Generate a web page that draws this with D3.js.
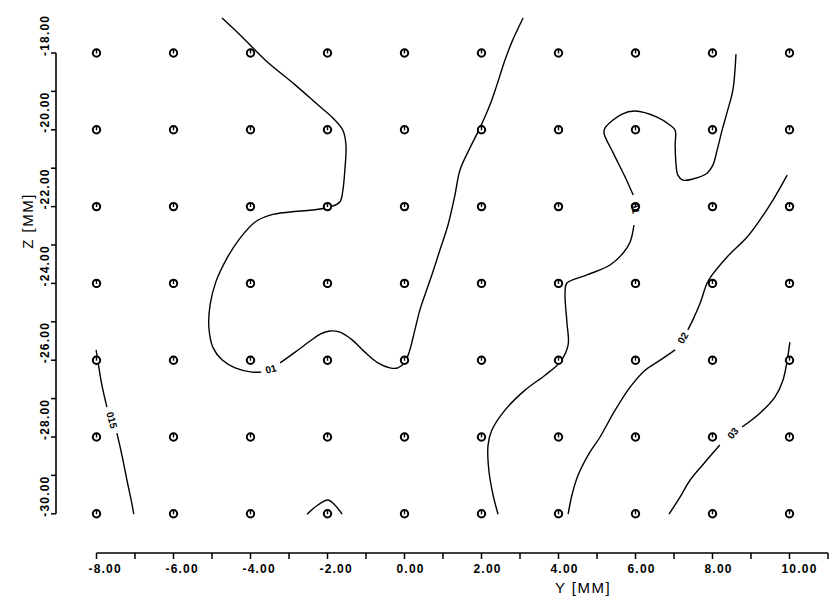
<!DOCTYPE html>
<html>
<head>
<meta charset="utf-8">
<script src="https://cdn.jsdelivr.net/npm/d3@7"></script>
<style>
html,body{margin:0;padding:0;background:#fff;}
svg{display:block;}
text{font-family:"Liberation Sans","DejaVu Sans",sans-serif;fill:#000;}
</style>
</head>
<body>
<div id="chart"></div>
<script>
// ---- data (Y, Z in mm) ----
const gridY = [-8, -6, -4, -2, 0, 2, 4, 6, 8, 10];
const gridZ = [-18, -20, -22, -24, -26, -28, -30];
const xTickLabels = ["-8.00","-6.00","-4.00","-2.00","0.00","2.00","4.00","6.00","8.00","10.00"];
const yTickLabels = ["-18.00","-20.00","-22.00","-24.00","-26.00","-28.00","-30.00"];

// contour 0.1 (left), split at label gap
const c01a_1 = [[-4.74,-17.09],[-4.27,-17.53],[-3.62,-18.18],[-2.84,-18.83],[-2.25,-19.35],[-1.86,-19.69],[-1.60,-20.01],[-1.52,-20.40],[-1.55,-21.05],[-1.60,-21.57],[-1.68,-21.88],[-1.94,-22.01],[-2.40,-22.09],[-2.97,-22.14],[-3.49,-22.22],[-3.88,-22.40],[-4.27,-22.82],[-4.61,-23.34],[-4.90,-23.96],[-5.05,-24.56],[-5.08,-25.16],[-4.97,-25.68],[-4.74,-25.99],[-4.40,-26.20],[-3.96,-26.31],[-3.72,-26.31]];
const c01a_2 = [[-3.23,-26.07],[-2.84,-25.79],[-2.45,-25.50],[-2.19,-25.32],[-1.94,-25.24],[-1.68,-25.27],[-1.36,-25.47],[-1.03,-25.79],[-0.69,-26.07],[-0.38,-26.20],[-0.17,-26.20],[0.01,-26.05],[0.14,-25.73],[0.27,-25.21],[0.40,-24.69],[0.53,-24.30],[0.71,-23.78],[0.92,-23.13],[1.13,-22.48],[1.31,-21.70],[1.44,-21.05],[1.70,-20.47],[1.96,-19.95],[2.22,-19.35],[2.40,-18.83],[2.61,-18.18],[2.79,-17.71],[3.08,-17.09]];
// contour 0.15 (far left)
const c015_1 = [[-8.01,-25.73],[-7.96,-26.05],[-7.86,-26.65],[-7.73,-27.22]];
const c015_2 = [[-7.47,-27.90],[-7.34,-28.47],[-7.21,-29.12],[-7.10,-29.64],[-7.03,-30.01]];
// small arch near Y=-2, Z=-30
const c01c = [[-2.53,-30.01],[-2.25,-29.77],[-1.99,-29.64],[-1.81,-29.77],[-1.62,-30.01]];
// contour 0.1 (right)
const c01b_1 = [[8.61,-18.03],[8.53,-18.96],[8.38,-19.54],[8.25,-20.01],[8.12,-20.53],[8.01,-20.92],[7.86,-21.13],[7.49,-21.28],[7.23,-21.31],[7.10,-21.18],[7.05,-20.86],[7.03,-20.40],[7.03,-20.01],[6.90,-19.88],[6.56,-19.67],[5.99,-19.51],[5.65,-19.59],[5.21,-19.95],[5.18,-20.08],[5.42,-20.60],[5.73,-21.23],[5.94,-21.70]];
const c01b_2 = [[5.96,-22.48],[5.86,-22.92],[5.68,-23.21],[5.34,-23.52],[4.74,-23.78],[4.22,-23.99],[4.17,-24.25],[4.22,-25.03],[4.25,-25.60],[4.04,-26.05],[3.65,-26.39],[3.13,-26.78],[2.61,-27.30],[2.27,-27.82],[2.17,-28.21],[2.19,-28.86],[2.30,-29.51],[2.43,-30.01]];
// contour 0.2
const c02_1 = [[4.25,-30.01],[4.35,-29.51],[4.51,-28.99],[4.77,-28.47],[5.08,-28.00],[5.47,-27.30],[5.86,-26.70],[6.25,-26.26],[6.64,-26.00],[7.03,-25.73]];
const c02_2 = [[7.36,-25.21],[7.49,-24.95],[7.68,-24.51],[7.86,-23.99],[7.99,-23.78],[8.38,-23.31],[8.90,-22.79],[9.23,-22.35],[9.57,-21.83],[9.94,-21.18]];
// contour 0.3
const c03_1 = [[6.87,-30.01],[7.16,-29.56],[7.42,-29.12],[7.81,-28.65],[8.19,-28.21]];
const c03_2 = [[8.77,-27.74],[9.23,-27.38],[9.62,-26.96],[9.83,-26.52],[10.01,-25.53]];

const contours = [c01a_1, c01a_2, c015_1, c015_2, c01c, c01b_1, c01b_2, c02_1, c02_2, c03_1, c03_2];
// contour labels: [Y, Z, text, angle]
const labelY = [-3.47, -7.60, 5.99, 7.23, 8.53];
const labelZ = [-26.23, -27.56, -22.04, -25.42, -27.90];
const labelText = ["01", "015", "01", "02", "03"];
const labelAngle = [-15, 75, 80, -60, -50];

// ---- drawing ----
const W = 834, H = 607;
const svg = d3.select("#chart").append("svg").attr("width", W).attr("height", H);

const x = d3.scaleLinear().domain([-8, 11]).range([96.5, 828]);
const y = d3.scaleLinear().domain([-18, -30]).range([53, 513.8]);

// X axis
const xAxisY = 553;
const xg = svg.append("g").attr("transform", `translate(0,${xAxisY})`);
xg.append("line").attr("x1", x(-8)).attr("x2", x(11)).attr("y1", 0).attr("y2", 0)
  .attr("stroke", "#000").attr("stroke-width", 1.6);
xg.selectAll("line.t").data(d3.range(-8, 12)).join("line").attr("class","t")
  .attr("x1", d => x(d)).attr("x2", d => x(d)).attr("y1", 0).attr("y2", 6)
  .attr("stroke", "#000").attr("stroke-width", 1.5);
xg.selectAll("text").data(gridY).join("text")
  .attr("x", d => x(d) - 8).attr("y", 20)
  .attr("font-size", 12).attr("font-weight", "bold").attr("letter-spacing", 1.2)
  .text((d, i) => xTickLabels[i]);
svg.append("text").attr("x", 583).attr("y", 593).attr("text-anchor", "middle")
  .attr("font-size", 15).attr("letter-spacing", 1.5).attr("font-family","DejaVu Sans")
  .text("Y  [MM]");

// Y axis
const yAxisX = 56;
const yg = svg.append("g").attr("transform", `translate(${yAxisX},0)`);
yg.append("line").attr("x1", 0).attr("x2", 0).attr("y1", y(-18)).attr("y2", y(-30))
  .attr("stroke", "#000").attr("stroke-width", 1.6);
yg.selectAll("line.t").data(d3.range(-18, -31, -1)).join("line").attr("class","t")
  .attr("x1", 0).attr("x2", -5).attr("y1", d => y(d)).attr("y2", d => y(d))
  .attr("stroke", "#000").attr("stroke-width", 1.5);
yg.selectAll("text").data(gridZ).join("text")
  .attr("transform", d => `translate(-7,${y(d) + 3}) rotate(-90)`)
  .attr("font-size", 12).attr("font-weight", "bold").attr("letter-spacing", 1.2)
  .text((d, i) => yTickLabels[i]);
svg.append("text").attr("transform", "translate(33,221) rotate(-90)").attr("text-anchor", "middle")
  .attr("font-size", 15).attr("letter-spacing", 1.5).attr("font-family","DejaVu Sans")
  .text("Z  [MM]");

// contours
const line = d3.line().x(d => x(d[0])).y(d => y(d[1])).curve(d3.curveCatmullRom.alpha(0.5));
svg.append("g").selectAll("path").data(contours).join("path")
  .attr("d", line).attr("fill", "none").attr("stroke", "#000").attr("stroke-width", 1.4);

// grid markers
const pts = [];
gridZ.forEach(z => gridY.forEach(yy => pts.push([yy, z])));
const mg = svg.append("g").selectAll("g").data(pts).join("g")
  .attr("transform", d => `translate(${x(d[0])},${y(d[1])})`);
mg.append("circle").attr("r", 3.7).attr("fill", "#fff").attr("stroke", "#000").attr("stroke-width", 2);
mg.append("line").attr("x1", 0).attr("x2", 0).attr("y1", -3).attr("y2", 0.5)
  .attr("stroke", "#000").attr("stroke-width", 1.4);

// contour labels
svg.append("g").selectAll("text").data(labelText).join("text")
  .attr("transform", (d, i) => `translate(${x(labelY[i])},${y(labelZ[i])}) rotate(${labelAngle[i]})`)
  .attr("text-anchor", "middle").attr("dominant-baseline", "central")
  .attr("font-size", 10).attr("font-weight", "bold")
  .text(d => d);
</script>
</body>
</html>
